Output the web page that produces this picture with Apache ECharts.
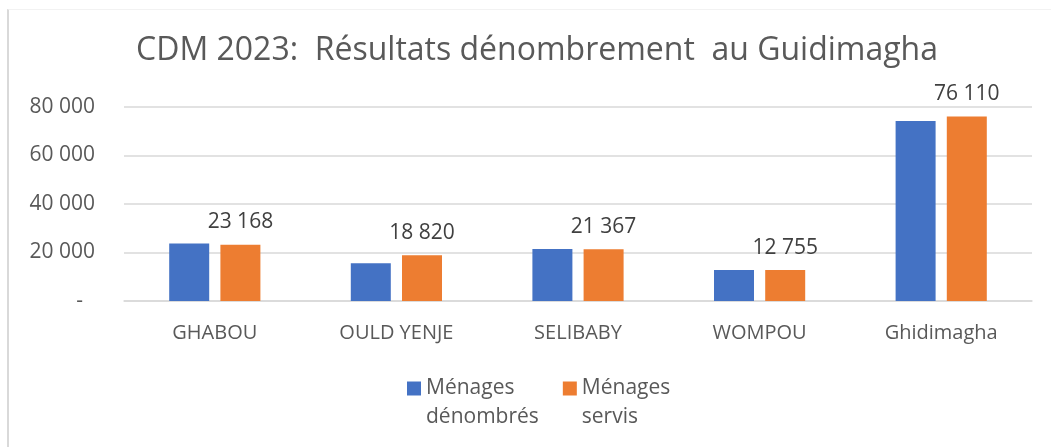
<!DOCTYPE html>
<html>
<head>
<meta charset="utf-8">
<script src="https://cdn.jsdelivr.net/npm/echarts@6/dist/echarts.min.js"></script>
<style>
  html, body { margin: 0; padding: 0; background: #fff; }
  #frame {
    position: absolute; left: 7px; top: 9px; width: 1060px; height: 450px;
    border-left: 2px solid #d9d9d9; border-top: 1px solid #f2f2f2;
  }
  #chart { position: absolute; left: 0; top: 0; width: 1051px; height: 447px; }
</style>
</head>
<body>
<div id="frame"></div>
<div id="chart"></div>
<script>
// données
const categories = ["GHABOU", "OULD YENJE", "SELIBABY", "WOMPOU", "Ghidimagha"];
const denombres = [23700, 15550, 21400, 12800, 74200];
const servis = [23168, 18820, 21367, 12755, 76110];
const seriesNames = ["Ménages dénombrés", "Ménages servis"];

const font = "Open Sans";

// 23168 -> "23 168"
function fmt(v) {
  return String(Math.round(v)).replace(/\B(?=(\d{3})+(?!\d))/g, " ");
}

const chart = echarts.init(document.getElementById("chart"));

const option = {
  animation: false,
  textStyle: { fontFamily: font },
  title: {
    text: "CDM 2023:  Résultats dénombrement  au Guidimagha",
    left: 532,
    textAlign: "center",
    top: 30,
    textStyle: { color: "#595959", fontSize: 32, fontWeight: "normal", fontFamily: font },
  },
  legend: {
    data: seriesNames,
    left: 402,
    top: 340,
    icon: "rect",
    itemWidth: 14,
    itemHeight: 14,
    itemGap: 24,
    // ligne vide en tête : le carré s'aligne sur la première ligne du texte
    formatter: function (name) {
      return " \n" + name.replace(" ", "\n");
    },
    textStyle: {
      color: "#595959",
      fontSize: 21,
      lineHeight: 29,
      fontFamily: font,
    },
  },
  grid: { left: 124, right: 19, top: 107, bottom: 146, containLabel: false },
  xAxis: {
    type: "category",
    data: categories,
    axisLine: { lineStyle: { color: "#d9d9d9", width: 1.5 } },
    axisTick: { show: false },
    axisLabel: { color: "#595959", fontSize: 20, margin: 22, fontFamily: font },
  },
  yAxis: {
    type: "value",
    min: 0,
    max: 80000,
    interval: 20000,
    axisLine: { show: false },
    axisTick: { show: false },
    splitLine: { lineStyle: { color: "#d9d9d9", width: 1.5 } },
    axisLabel: {
      color: "#595959",
      fontSize: 21,
      margin: 29,
      fontFamily: font,
      formatter: function (v) {
        return v === 0 ? "{d|-}" : fmt(v);
      },
      rich: { d: { color: "#595959", fontSize: 21, padding: [0, 12, 0, 0], fontFamily: font } },
    },
  },
  series: [
    {
      name: seriesNames[0],
      type: "bar",
      data: denombres,
      barWidth: 40,
      barGap: "28%",
      itemStyle: { color: "#4472C4" },
    },
    {
      name: seriesNames[1],
      type: "bar",
      data: servis,
      barWidth: 40,
      itemStyle: { color: "#ED7D31" },
      label: {
        show: true,
        position: "top",
        distance: 12,
        color: "#404040",
        fontSize: 21,
        fontFamily: font,
        formatter: function (p) {
          return fmt(p.value);
        },
      },
    },
  ],
};

chart.setOption(option);
</script>
</body>
</html>
